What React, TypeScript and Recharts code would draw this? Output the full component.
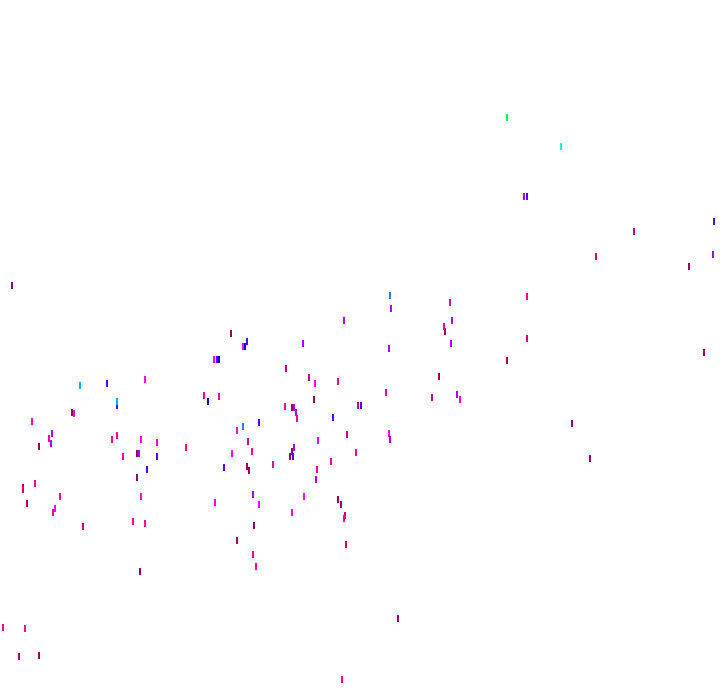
import React from "react";
import { ScatterChart, Scatter, XAxis, YAxis } from "recharts";

// points, grouped by colour: [x, y]
const darkMagenta = [
  [12, 286], [231, 334], [507, 361], [704, 353], [689, 267], [439, 377], [445, 332],
  [72, 413], [39, 447], [137, 454], [137, 478], [23, 488], [27, 504], [292, 408],
  [292, 452], [290, 457], [247, 467], [249, 471], [338, 500], [341, 505], [254, 526],
  [237, 541], [140, 572], [572, 424], [590, 459], [398, 619], [19, 657], [39, 656],
  [314, 400],
];
const darkPink = [
  [634, 232], [596, 257], [527, 339], [286, 369], [432, 398], [248, 442], [347, 435],
  [345, 516], [346, 545], [83, 527], [358, 406], [309, 378], [23, 490],
];
const pink = [
  [450, 303], [527, 297], [444, 327], [338, 382], [204, 396], [219, 397], [386, 393],
  [32, 422], [49, 439], [112, 440], [117, 436], [123, 457], [35, 484], [60, 497],
  [53, 513], [133, 522], [145, 524], [297, 419], [252, 452], [273, 465], [331, 462],
  [317, 470], [344, 519], [253, 555], [256, 567], [3, 628], [25, 629], [342, 680],
  [285, 407], [186, 448], [356, 453],
];
const magenta = [
  [145, 380], [315, 384], [74, 414], [141, 440], [157, 443], [141, 497], [55, 509],
  [237, 431], [232, 454], [318, 441], [304, 497], [215, 503], [259, 505], [292, 513],
  [389, 434], [460, 400], [243, 347], [214, 360],
];
const purple = [
  [391, 309], [452, 321], [344, 321], [303, 344], [389, 349], [451, 344], [457, 395],
  [52, 434], [51, 444], [139, 454], [296, 413], [316, 480], [253, 495], [390, 440],
  [713, 255], [294, 408], [294, 448], [524, 197],
];
const blueViolet = [
  [714, 222], [107, 384], [117, 406], [157, 457], [147, 470], [224, 468], [259, 423],
  [333, 418], [361, 406], [247, 342], [293, 457], [217, 360], [527, 197],
];
const blue = [[208, 402], [245, 347], [219, 360]];
const lightBlue = [[390, 296], [243, 427]];
const cyan = [[80, 386], [117, 402]];
const turquoise = [[561, 147]];
const green = [[507, 118]];

const groups = [
  { name: "darkMagenta", points: darkMagenta, color: "#990066" },
  { name: "darkPink", points: darkPink, color: "#cc0088" },
  { name: "pink", points: pink, color: "#ff0099" },
  { name: "magenta", points: magenta, color: "#ff00ee" },
  { name: "purple", points: purple, color: "#aa00ff" },
  { name: "blueViolet", points: blueViolet, color: "#5500ff" },
  { name: "blue", points: blue, color: "#0000dd" },
  { name: "lightBlue", points: lightBlue, color: "#3377ee" },
  { name: "cyan", points: cyan, color: "#00aaff" },
  { name: "turquoise", points: turquoise, color: "#00ffcc" },
  { name: "green", points: green, color: "#00ff44" },
];

const Tick = (props: any) => {
  const { cx, cy, fill } = props;
  if (cx == null || cy == null) return null;
  const x = Math.round(cx) - 1;
  const y = Math.round(cy) - 4;
  return <rect x={x} y={y} width={2} height={7} fill={fill} shapeRendering="crispEdges" />;
};

const App = () => {
  return (
    <div style={{ position: "absolute", left: 0, top: 0 }}>
      <ScatterChart width={720} height={692} margin={{ top: 0, right: 0, bottom: 0, left: 0 }}>
        <XAxis type="number" dataKey="x" domain={[0, 720]} hide />
        <YAxis type="number" dataKey="y" domain={[0, 692]} reversed hide />
        {groups.map((g) => (
          <Scatter
            key={g.name}
            name={g.name}
            data={g.points.map(([x, y]) => ({ x, y }))}
            fill={g.color}
            shape={<Tick />}
            isAnimationActive={false}
          />
        ))}
      </ScatterChart>
    </div>
  );
};

export default App;
